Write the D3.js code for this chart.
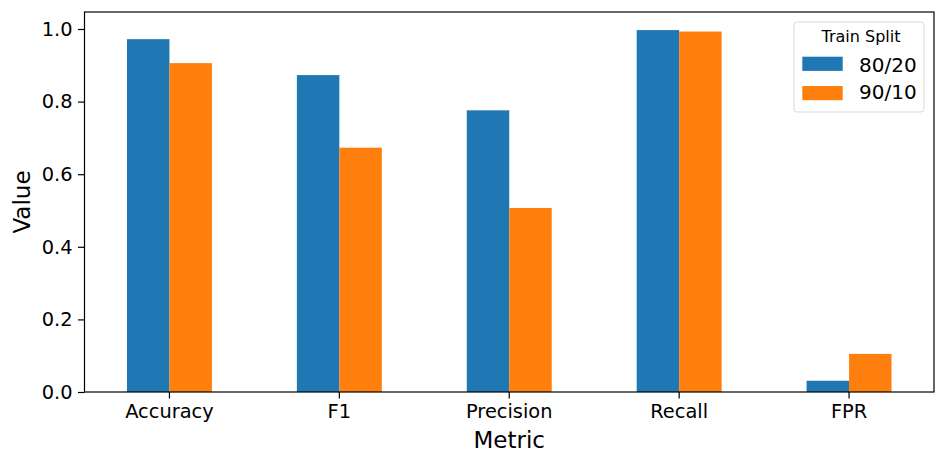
<!DOCTYPE html>
<html>
<head>
<meta charset="utf-8">
<script src="https://cdnjs.cloudflare.com/ajax/libs/d3/7.8.5/d3.min.js"></script>
<style>
body { margin: 0; background: #fff; }
text { font-family: "DejaVu Sans", sans-serif; }
</style>
</head>
<body>
<div id="chart"></div>
<script>
var metrics = ["Accuracy", "F1", "Precision", "Recall", "FPR"];
var splits = ["80/20", "90/10"];
var split8020 = [0.972, 0.873, 0.776, 0.997, 0.031];
var split9010 = [0.906, 0.673, 0.507, 0.993, 0.105];
var yTicks = [0.0, 0.2, 0.4, 0.6, 0.8, 1.0];
var colors = ["#1f77b4", "#ff7f0e"];

var margin = {top: 12, right: 12, bottom: 73, left: 84.5},
width = 946 - margin.left - margin.right,
height = 465 - margin.top - margin.bottom;

var svg = d3.select("#chart")
.append("svg")
.attr("width", 946)
.attr("height", 465)
.append("g")
.attr("transform", "translate(" + margin.left + "," + margin.top + ")");

var x = d3.scaleBand().domain(metrics).range([0, width]).paddingInner(0).paddingOuter(0);
var barW = x.bandwidth() * 0.25;
var y = d3.scaleLinear().domain([0, 0.997 * 1.05]).range([height, 0]);

var series = [split8020, split9010];
series.forEach(function(vals, s) {
  svg.selectAll(".bar" + s)
  .data(metrics)
  .enter()
  .append("rect")
  .attr("x", function(d) { return x(d) + x.bandwidth() / 2 + (s - 1) * barW; })
  .attr("width", barW)
  .attr("y", function(d, i) { return y(vals[i]); })
  .attr("height", function(d, i) { return height - y(vals[i]); })
  .attr("fill", colors[s]);
});

var xAxis = svg.append("g")
.attr("transform", "translate(0," + height + ")")
.call(d3.axisBottom(x).tickSize(6.5).tickPadding(6));
var yAxis = svg.append("g")
.call(d3.axisLeft(y).tickValues(yTicks).tickFormat(d3.format(".1f")).tickSize(6.5).tickPadding(5.5));

[xAxis, yAxis].forEach(function(a) {
  a.selectAll("text").attr("font-size", 19.4).attr("fill", "#000").style("font-family", "DejaVu Sans");
  a.selectAll("line").attr("stroke", "#000").attr("stroke-width", 1.2);
  a.select(".domain").remove();
});

svg.append("rect")
.attr("width", width).attr("height", height)
.attr("fill", "none").attr("stroke", "#000").attr("stroke-width", 1.2);

svg.append("text")
.attr("x", width / 2).attr("y", 448 - margin.top)
.attr("text-anchor", "middle").attr("font-size", 23)
.text("Metric");

svg.append("text")
.attr("transform", "translate(" + (30 - margin.left) + "," + (height / 2) + ") rotate(-90)")
.attr("text-anchor", "middle").attr("font-size", 23)
.text("Value");

// legend
var lg = svg.append("g").attr("transform", "translate(" + (794 - margin.left) + "," + (22 - margin.top) + ")");
lg.append("rect")
.attr("width", 130).attr("height", 90).attr("rx", 3)
.attr("fill", "#fff").attr("fill-opacity", 0.8)
.attr("stroke", "#d9d9d9");
lg.append("text")
.attr("x", 67).attr("y", 19.7)
.attr("text-anchor", "middle").attr("font-size", 16)
.text("Train Split");
splits.forEach(function(s, i) {
  lg.append("rect")
  .attr("x", 8.3).attr("y", 34.7 + i * 29.3)
  .attr("width", 40.4).attr("height", 14.2)
  .attr("fill", colors[i]);
  lg.append("text")
  .attr("x", 65).attr("y", 49.7 + i * 27.6)
  .attr("font-size", 20)
  .text(s);
});
</script>
</body>
</html>
